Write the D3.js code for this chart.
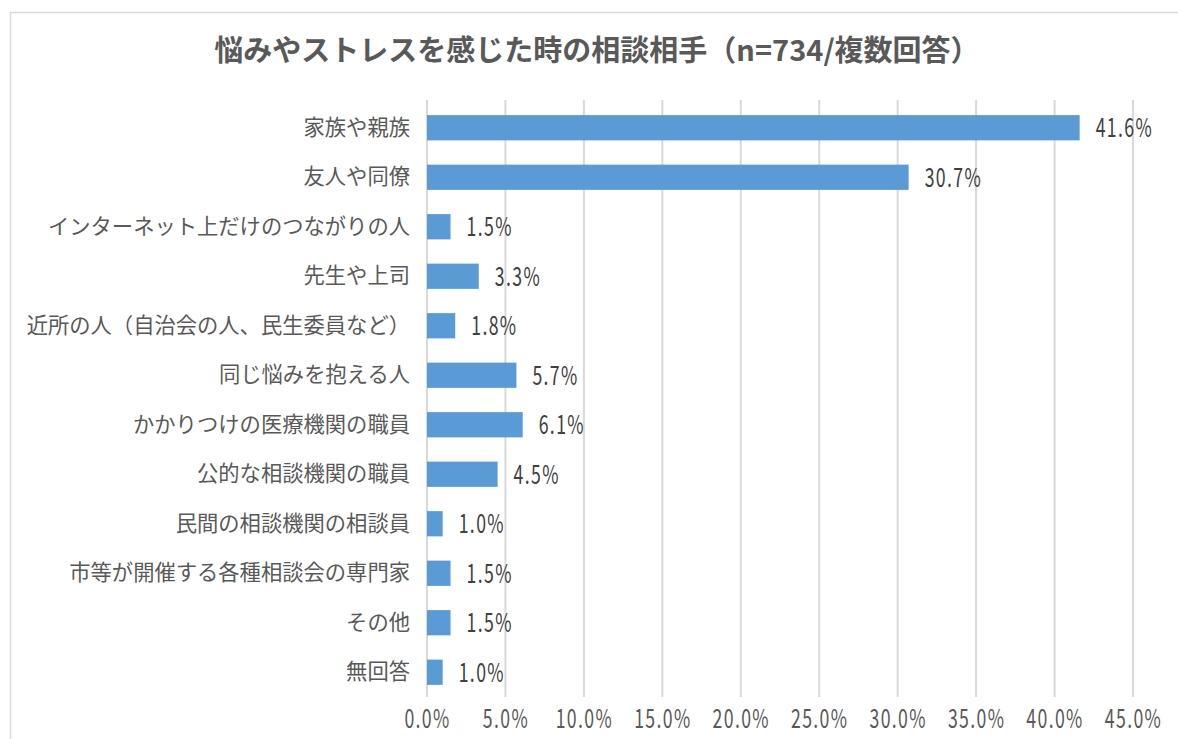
<!DOCTYPE html>
<html>
<head>
<meta charset="utf-8">
<script src="https://d3js.org/d3.v7.min.js"></script>
<style>
  body { margin: 0; background: #fff; }
  svg text { font-family: "Noto Sans CJK JP", "Noto Sans", sans-serif; }
</style>
</head>
<body>
<svg id="chart" width="1178" height="739"></svg>
<script>
var categories = ["家族や親族", "友人や同僚", "インターネット上だけのつながりの人", "先生や上司",
  "近所の人（自治会の人、民生委員など）", "同じ悩みを抱える人", "かかりつけの医療機関の職員",
  "公的な相談機関の職員", "民間の相談機関の相談員", "市等が開催する各種相談会の専門家", "その他", "無回答"];
var values = [41.6, 30.7, 1.5, 3.3, 1.8, 5.7, 6.1, 4.5, 1.0, 1.5, 1.5, 1.0];
var tickValues = [0, 5, 10, 15, 20, 25, 30, 35, 40, 45];
var title = "悩みやストレスを感じた時の相談相手（n=734/複数回答）";

var svg = d3.select("#chart");

// outer chart border
svg.append("rect")
  .attr("x", 10.5).attr("y", 12.5)
  .attr("width", 1200).attr("height", 760)
  .attr("fill", "#fff").attr("stroke", "#d9d9d9").attr("stroke-width", 1.5);

var x = d3.scaleLinear().domain([0, 45]).range([427, 1133]);
var y = d3.scaleBand().domain(categories).range([103, 697]).paddingInner(0.49).paddingOuter(0.245);

svg.append("text")
  .attr("x", 597).attr("y", 61)
  .attr("text-anchor", "middle")
  .attr("font-size", 29).attr("font-weight", "bold")
  .attr("fill", "#595959")
  .text(title);

// gridlines
svg.append("g").selectAll("line")
  .data(tickValues)
  .join("line")
  .attr("x1", function(d) { return x(d); })
  .attr("x2", function(d) { return x(d); })
  .attr("y1", 100).attr("y2", 697)
  .attr("stroke", "#d9d9d9").attr("stroke-width", 2);

// x axis labels (narrow digits like the original)
var xAxis = d3.axisBottom(x).tickValues(tickValues).tickSize(0).tickPadding(0)
  .tickFormat(function(d) { return d.toFixed(1) + "%"; });
var gx = svg.append("g").attr("transform", "translate(0,710)").call(xAxis);
gx.select(".domain").remove();
gx.selectAll("text")
  .attr("font-family", "\"Noto Sans CJK JP\", sans-serif")
  .attr("font-size", 26).attr("fill", "#595959")
  .attr("letter-spacing", 2).attr("dy", "0.71em")
  .attr("transform", "scale(0.68,1)");

// y axis labels
var yAxis = d3.axisLeft(y).tickSize(0).tickPadding(17);
var gy = svg.append("g").attr("transform", "translate(427,0)").call(yAxis);
gy.select(".domain").remove();
gy.selectAll("text")
  .attr("font-family", "\"Noto Sans CJK JP\", sans-serif")
  .attr("font-size", 21.3).attr("fill", "#595959");

// bars
svg.append("g").selectAll("rect")
  .data(values)
  .join("rect")
  .attr("x", x(0))
  .attr("y", function(d, i) { return y(categories[i]); })
  .attr("width", function(d) { return x(d) - x(0); })
  .attr("height", y.bandwidth())
  .attr("fill", "#5b9bd5");

// value labels
svg.append("g").selectAll("text")
  .data(values)
  .join("text")
  .attr("transform", function(d, i) {
    return "translate(" + (x(d) + 16) + "," + (y(categories[i]) + y.bandwidth() / 2) + ") scale(0.68,1)";
  })
  .attr("dy", "0.36em")
  .attr("font-size", 26).attr("fill", "#404040")
  .attr("letter-spacing", 2)
  .text(function(d) { return d.toFixed(1) + "%"; });
</script>
</body>
</html>
